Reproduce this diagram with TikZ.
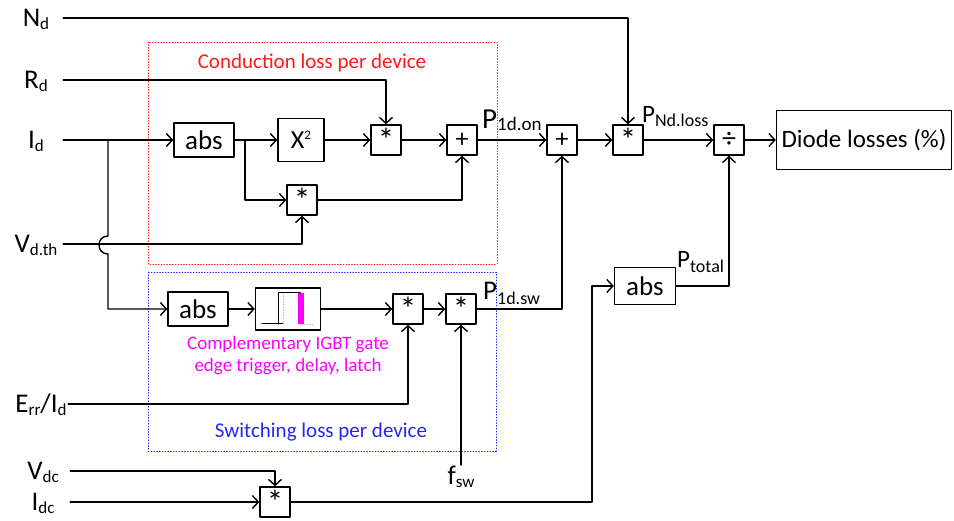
\documentclass[tikz,border=0pt]{standalone}
\usepackage{fontspec}
\setmainfont{Carlito}
\usetikzlibrary{arrows.meta}
\definecolor{rdline}{rgb}{1,0.1,0.1}
\definecolor{blline}{rgb}{0.15,0.15,0.95}
\definecolor{mgtext}{rgb}{1,0,1}
\newcommand{\fs}[1]{\fontsize{#1}{#1}\selectfont}
\newcommand{\sbs}[3][3pt]{\raisebox{-#1}{\fs{#2}#3}}

\begin{document}
\begin{tikzpicture}[x=1pt,y=-1pt,line cap=round,line join=round,
  conn/.style={line width=1.4pt,-{Straight Barb[length=6pt,width=13pt]}},
  blk/.style={draw,line width=1.4pt,inner sep=0pt,minimum width=30pt,minimum height=30pt,font=\fs{26}},
  mulblk/.style={blk,font=\fs{33}},
  absblk/.style={blk,minimum width=60pt,minimum height=34pt,font=\fs{27}},
  inlbl/.style={inner sep=1pt,minimum width=54pt,text height=17pt,text depth=0pt,font=\fs{27}},
  plbl/.style={anchor=base west,inner sep=0pt},
  grp/.style={line width=0.8pt,dotted}]
  \useasboundingbox (0,0) rectangle (954,521);

  % groups
  \draw[grp,rdline] (148,42) rectangle (497,264);
  \draw[grp,blline] (148,272) rectangle (496,451);
  \node[font=\fs{21},text=rdline] (tcond) at (312,63) {Conduction loss per device};
  \node[font=\fs{21},text=blline] (tsw) at (321,432) {Switching loss per device};
  \node[font=\fontsize{19}{22}\selectfont,text=mgtext,align=center] (tcomp) at (288,356) {Complementary IGBT gate\\edge trigger, delay, latch};

  % inputs
  \node[inlbl] (Nd) at (36,18) {N\sbs{17}{d}};
  \node[inlbl] (Rd) at (36,80) {R\sbs{17}{d}};
  \node[inlbl] (Id) at (36,140) {I\sbs{17}{d}};
  \node[inlbl] (Vdth) at (36,244) {V\sbs{17}{d.th}};
  \node[inlbl] (Err) at (41,404) {E\sbs{17}{rr}/I\sbs{17}{d}};
  \node[inlbl] (Vdc) at (43,471) {V\sbs{17}{dc}};
  \node[inlbl] (Idc) at (43,502) {I\sbs{17}{dc}};
  \node[anchor=north,inner sep=1pt,font=\fs{27}] (fsw) at (461,465) {f\sbs{17}{sw}};

  % blocks
  \node[absblk] (abs1) at (204,140) {abs};
  \node[blk,minimum width=46pt,minimum height=43pt,font=\fs{26}] (sqr) at (301,140) {X\raisebox{9pt}{\fs{13}2}};
  \node[mulblk] (mulR) at (386,140) {*};
  \node[mulblk] (mulV) at (302,200) {*};
  \node[blk] (add1) at (462,140) {+};
  \node[blk] (add2) at (562,140) {+};
  \node[mulblk] (mulN) at (628,140) {*};
  \node[blk,font=\fs{28}] (div) at (729,140) {÷};
  \node[draw,line width=1.4pt,minimum width=175pt,minimum height=59pt,font=\fs{25}] (dloss) at (864,140) {Diode losses (\%)};
  \node[absblk,minimum width=61pt,minimum height=37pt] (absT) at (645,286) {abs};

  \node[absblk] (abs2) at (198,309) {abs};
  \node[blk,minimum width=65pt,minimum height=42pt] (trig) at (288,309) {};
  \node[mulblk] (mulS1) at (408,309) {*};
  \node[mulblk] (mulS2) at (461,309) {*};
  \node[mulblk] (mulD) at (275,502) {*};

  % trigger icon
  \draw[line width=1pt] (262,324) -- (283,324);
  \draw[line width=1pt] (278,324) -- (278,293) -- (300,293) -- (300,324);
  \draw[gray!60,dotted,line width=0.8pt] (283,293) -- (283,324) (304,324) -- (313,324);
  \fill[mgtext] (298,293) rectangle (304,324);

  % signal labels
  \node[plbl,font=\fs{29}] (pon) at (482,129) {P\sbs[2pt]{19}{1d.on}};
  \node[plbl,font=\fs{27}] (psw) at (483,300) {P\sbs[5pt]{18}{1d.sw}};
  \node[plbl,font=\fs{25}] (ploss) at (642,123) {P\sbs[4pt]{18}{Nd.loss}};
  \node[plbl,font=\fs{25}] (ptot) at (677,268) {P\sbs[5pt]{18}{total}};

  \coordinate (jI) at (108,140);
  \coordinate (jA) at (245,140);
  \coordinate (jT) at (592,286);

  % conduction path
  \draw[conn] (Id) -- (abs1);
  \draw[conn] (abs1) -- (sqr);
  \draw[conn] (sqr) -- (mulR);
  \draw[conn] (mulR) -- (add1);
  \draw[conn] (Rd) -| (mulR);
  \draw[conn] (jA) |- (mulV);
  \draw[conn] (Vdth) -| (mulV);
  \draw[conn] (mulV) -| (add1);
  \draw[conn] (add1) -- (add2);
  \draw[conn] (add2) -- (mulN);
  \draw[conn] (Nd) -| (mulN);
  \draw[conn] (mulN) -- (div);
  \draw[conn] (div) -- (dloss);
  \draw[conn] (absT) -| (div);

  % switching path
  \draw[conn] (jI) -- (108,236) .. controls (96,236) and (96,254) .. (108,254) |- (abs2);
  \draw[conn] (abs2) -- (trig);
  \draw[conn] (trig) -- (mulS1);
  \draw[conn] (mulS1) -- (mulS2);
  \draw[conn] (Err) -| (mulS1);
  \draw[conn] (fsw) -- (mulS2);
  \draw[conn] (mulS2) -| (add2);

  % total power
  \draw[conn] (Vdc) -| (mulD);
  \draw[conn] (Idc) -- (mulD);
  \draw[conn] (mulD) -| (jT) -- (absT);
\end{tikzpicture}
\end{document}
